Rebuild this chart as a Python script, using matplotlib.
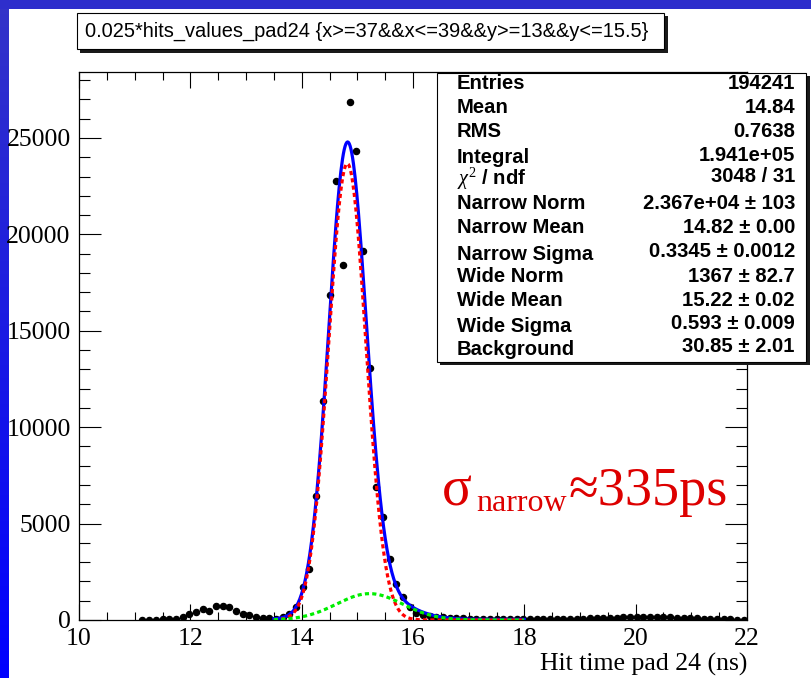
import numpy as np
import matplotlib
matplotlib.use("Agg")
from matplotlib import pyplot as plt
from matplotlib.patches import Rectangle
from matplotlib.colors import LinearSegmentedColormap

# histogram definition (100 bins on 10..22 ns), first filled bin index
n_bins, x_lo, x_hi = 100, 10.0, 22.0
first_bin = 9

# bin contents, bins 9..99
counts = [20, 20, 25, 30, 50, 70, 175, 295, 430, 550, 470, 745, 745, 660, 450,
          295, 255, 175, 120, 85, 70, 150,
          311, 659, 1696, 2645, 6432, 11343, 16872, 22754, 18397, 26883, 24310,
          19155, 13086, 6883, 5327, 3149, 1852, 1208, 659,
          340, 245, 205, 175, 145, 115, 95, 85, 75, 65, 55, 50, 45, 40, 40, 35, 35,
          30, 30, 35, 35, 40, 40, 45, 50, 70, 80, 90, 100, 110, 120, 140, 150,
          160, 170, 170, 160, 150, 140, 120, 100, 90, 80, 70, 60, 50, 40, 30,
          20, 20]

# fit parameters as printed in the stats box
fit_lo, fit_hi = 13.5, 18.0
narrow_norm, narrow_mean, narrow_sigma = 2.367e4, 14.82, 0.3345
wide_norm, wide_mean, wide_sigma = 1367.0, 15.22, 0.593
background = 30.85

stats_labels = ["Entries", "Mean", "RMS", "Integral", r"$\chi^{2}$ / ndf",
                "Narrow Norm", "Narrow Mean", "Narrow Sigma", "Wide Norm",
                "Wide Mean", "Wide Sigma", "Background"]
stats_values = ["194241", "14.84", "0.7638", "1.941e+05", "3048 / 31",
                "2.367e+04 \u00b1 103", "14.82 \u00b1 0.00", "0.3345 \u00b1 0.0012",
                "1367 \u00b1 82.7", "15.22 \u00b1 0.02", "0.593 \u00b1 0.009",
                "30.85 \u00b1 2.01"]
title = "0.025*hits_values_pad24 {x>=37&&x<=39&&y>=13&&y<=15.5}"
xlabel = "Hit time pad 24 (ns)"

W, H = 811, 678
plt.rcParams['mathtext.fontset'] = 'custom'
plt.rcParams['mathtext.rm'] = 'Liberation Serif'
plt.rcParams['mathtext.it'] = 'Liberation Serif:italic'

fig = plt.figure(figsize=(W / 100, H / 100), dpi=100)

# background layer in pixel coords (blue canvas border)
bg = fig.add_axes([0, 0, 1, 1], zorder=0)
bg.set_xlim(0, W)
bg.set_ylim(H, 0)
bg.axis("off")
grad = np.linspace(0, 1, 256).reshape(-1, 1)
bluemap = LinearSegmentedColormap.from_list("b", ["#3434c8", "#0000ff"])
bg.imshow(grad, cmap=bluemap, extent=(0, 9, H, 0), aspect="auto")
bg.add_patch(Rectangle((0, 0), W, 9, color="#2e2ecc", lw=0))

# main plot
L, R, T, B = 79, 747, 72, 620
ax = fig.add_axes([L / W, 1 - B / H, (R - L) / W, (B - T) / H], zorder=1)

edges = np.linspace(x_lo, x_hi, n_bins + 1)
centers = 0.5 * (edges[:-1] + edges[1:])
xs = centers[first_bin:first_bin + len(counts)]
ax.plot(xs, counts, "o", color="black", ms=4.4, zorder=2)

xf = np.linspace(fit_lo, fit_hi, 300)
g_narrow = narrow_norm * np.exp(-0.5 * ((xf - narrow_mean) / narrow_sigma) ** 2)
g_wide = wide_norm * np.exp(-0.5 * ((xf - wide_mean) / wide_sigma) ** 2)
total = g_narrow + g_wide + background
ax.plot(xf, total, color="#0000ff", lw=2.3, zorder=3)
ax.plot(xf, g_narrow, color="#ff0000", lw=2.3, ls=(0, (1.3, 1.0)), zorder=4)
ax.plot(xf, g_wide, color="#00ee00", lw=2.3, ls=(0, (1.3, 1.0)), zorder=5)

ax.set_xlim(x_lo, x_hi)
ax.set_ylim(0, 28420)
ax.set_xticks(np.arange(10, 22.1, 2))
ax.set_xticks(np.arange(10, 22.1, 0.5), minor=True)
ax.set_yticks(np.arange(0, 25001, 5000))
ax.set_yticks(np.arange(0, 28001, 1000), minor=True)
ax.tick_params(which="both", direction="in", top=True, right=True, width=0.8,
               labelsize=18.5)
ax.tick_params(axis="x", which="major", length=11.5, pad=6)
ax.tick_params(axis="x", which="minor", length=5.8)
ax.tick_params(axis="y", which="major", length=15.8, pad=6)
ax.tick_params(axis="y", which="minor", length=7.9)
for lab in ax.get_xticklabels() + ax.get_yticklabels():
    lab.set_fontfamily("Liberation Serif")
for sp in ax.spines.values():
    sp.set_linewidth(0.9)

# overlay layer in pixel coords
ov = fig.add_axes([0, 0, 1, 1], zorder=3)
ov.set_xlim(0, W)
ov.set_ylim(H, 0)
ov.axis("off")
ov.patch.set_alpha(0)

# title box with shadow
ov.add_patch(Rectangle((80, 16), 588, 37, color="#1a1a1a", lw=0))
ov.add_patch(Rectangle((77, 13), 587, 36, facecolor="white", edgecolor="black", lw=0.8))
ov.text(85, 31, title, fontsize=14.4, family="Liberation Sans", va="center", ha="left")

# stats box with shadow
ov.add_patch(Rectangle((440, 76), 370, 289, color="#1a1a1a", lw=0))
ov.add_patch(Rectangle((437, 73), 369, 289, facecolor="white", edgecolor="black", lw=0.8))
label_y = [89, 113, 137, 163, 185, 209, 233, 260, 282, 306, 332, 355]
value_y = [89, 113, 137, 161, 182, 209, 233, 257, 282, 306, 329, 352]
for lab, val, yl, yv in zip(stats_labels, stats_values, label_y, value_y):
    ov.text(457, yl, lab, fontsize=14.6, family="Liberation Sans", weight="bold",
            va="baseline", ha="left")
    ov.text(795, yv, val, fontsize=14.6, family="Liberation Sans", weight="bold",
            va="baseline", ha="right")

# annotation
red = "#dd0000"
ov.text(442, 505, "\u03c3", fontsize=40, family="Liberation Serif", color=red,
        va="baseline", ha="left")
ov.text(476, 511, "narrow", fontsize=23, family="Liberation Serif", color=red,
        va="baseline", ha="left")
ov.text(568, 505, "\u2248335ps", fontsize=39, family="Liberation Serif", color=red,
        va="baseline", ha="left")

ov.text(747, 671, xlabel, fontsize=18.5, family="Liberation Serif", va="baseline",
        ha="right")

fig.savefig("out.png", dpi=100)
